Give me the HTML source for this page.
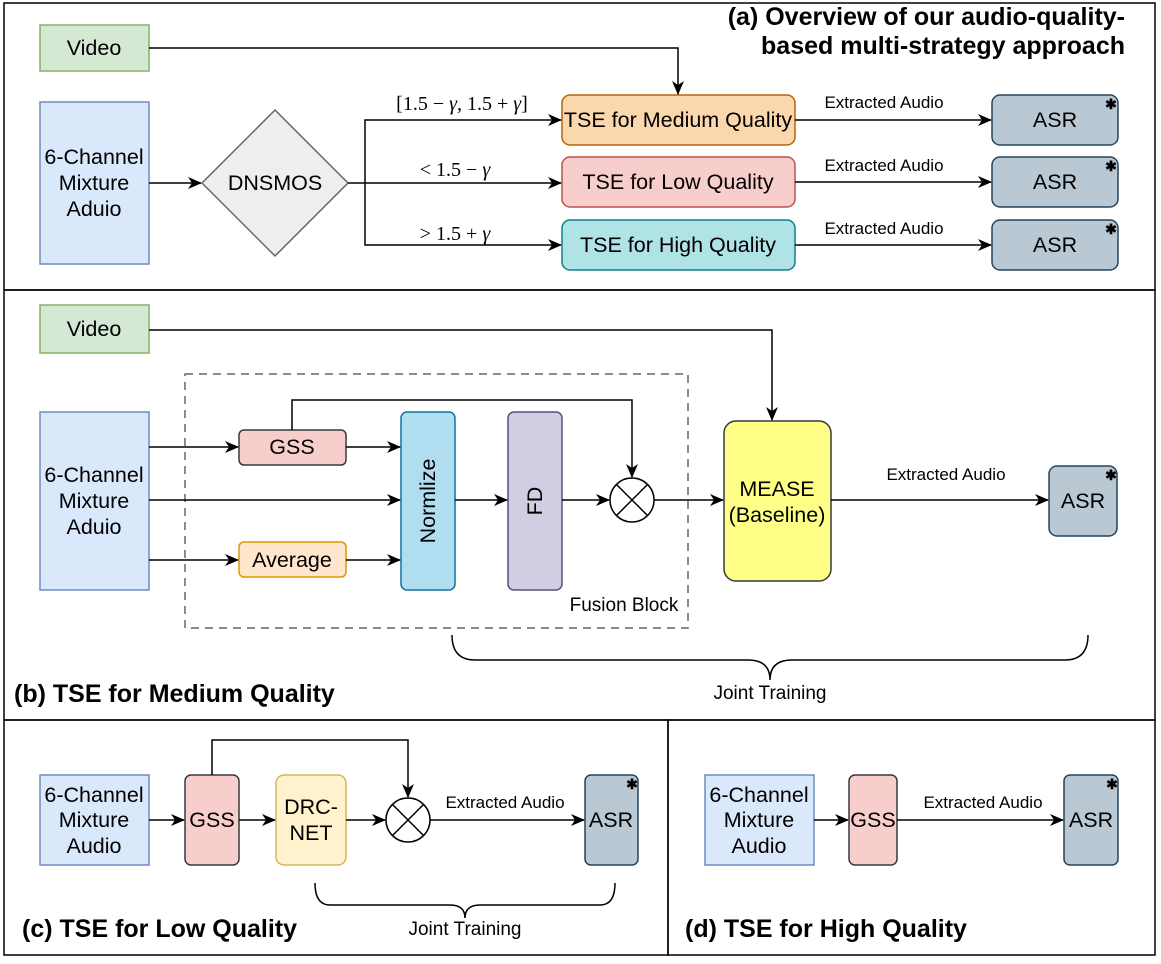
<!DOCTYPE html>
<html><head><style>body{margin:0;background:#fff}svg{display:block}text{font-family:"Liberation Sans",sans-serif}.m{font-family:"Liberation Serif",serif}</style></head><body>
<svg width="1161" height="964" viewBox="0 0 1161 964" xmlns="http://www.w3.org/2000/svg">
<defs><marker id="a" markerWidth="14" markerHeight="12" refX="13" refY="6" orient="auto" markerUnits="userSpaceOnUse"><path d="M0,0 L14,6 L0,12 L4,6 z" fill="#000"/></marker></defs>
<g fill="none" stroke="#000" stroke-width="1.5">
<rect x="4" y="3" width="1151" height="287"/>
<rect x="4" y="290" width="1151" height="430"/>
<rect x="4" y="720" width="664" height="235"/>
<rect x="668" y="720" width="487" height="235"/>
</g>
<g font-size="21.5" text-anchor="middle">
<rect x="40" y="25" width="109" height="46" fill="#d5e8d4" stroke="#82b366" stroke-width="1.5"/><text x="94" y="55">Video</text>
<rect x="40" y="102" width="109" height="162" fill="#dae8fc" stroke="#6c8ebf" stroke-width="1.5"/>
<text x="94" y="164">6-Channel</text><text x="94" y="190">Mixture</text><text x="94" y="216">Aduio</text>
<polygon points="275,110 348,183 275,256 202,183" fill="#eeeeee" stroke="#666" stroke-width="1.5"/><text x="275" y="190">DNSMOS</text>
<rect x="562" y="95" width="233" height="50" rx="8" fill="#fad7ac" stroke="#b46504" stroke-width="1.5"/><text x="678" y="127">TSE for Medium Quality</text>
<rect x="562" y="157" width="233" height="50" rx="8" fill="#f8cecc" stroke="#b85450" stroke-width="1.5"/><text x="678" y="189">TSE for Low Quality</text>
<rect x="562" y="220" width="233" height="50" rx="8" fill="#b0e3e6" stroke="#0e8088" stroke-width="1.5"/><text x="678" y="252">TSE for High Quality</text>
<g fill="#bac8d3" stroke="#23445d" stroke-width="1.5">
<rect x="992" y="95" width="126" height="50" rx="8"/><rect x="992" y="157" width="126" height="50" rx="8"/><rect x="992" y="220" width="126" height="50" rx="8"/>
<rect x="1049" y="466" width="68" height="70" rx="8"/><rect x="585" y="775" width="53" height="90" rx="6"/><rect x="1064" y="775" width="54" height="90" rx="6"/>
</g>
<text x="1055" y="127">ASR</text><text x="1055" y="189">ASR</text><text x="1055" y="252">ASR</text>
<rect x="40" y="305" width="109" height="48" fill="#d5e8d4" stroke="#82b366" stroke-width="1.5"/><text x="94" y="336">Video</text>
<rect x="40" y="412" width="109" height="178" fill="#dae8fc" stroke="#6c8ebf" stroke-width="1.5"/>
<text x="94" y="482">6-Channel</text><text x="94" y="508">Mixture</text><text x="94" y="534">Aduio</text>
<rect x="185" y="374" width="503" height="254" fill="none" stroke="#666" stroke-width="1.5" stroke-dasharray="8,6"/>
<rect x="239" y="430" width="107" height="35" rx="5" fill="#f8cecc" stroke="#36393d" stroke-width="1.5"/><text x="292" y="454">GSS</text>
<rect x="239" y="542" width="107" height="35" rx="5" fill="#ffe6cc" stroke="#d79b00" stroke-width="1.5"/><text x="292" y="567">Average</text>
<rect x="401" y="412" width="54" height="178" rx="6" fill="#b1ddf0" stroke="#10739e" stroke-width="1.5"/><text transform="translate(435,501) rotate(-90)">Normlize</text>
<rect x="508" y="412" width="54" height="178" rx="6" fill="#d0cee2" stroke="#56517e" stroke-width="1.5"/><text transform="translate(542,501) rotate(-90)">FD</text>
<rect x="724" y="421" width="107" height="160" rx="12" fill="#ffff88" stroke="#36393d" stroke-width="1.5"/><text x="777" y="496">MEASE</text><text x="777" y="522">(Baseline)</text>
<text x="1083" y="508">ASR</text>
<rect x="40" y="775" width="109" height="90" fill="#dae8fc" stroke="#6c8ebf" stroke-width="1.5"/>
<text x="94" y="802">6-Channel</text><text x="94" y="827">Mixture</text><text x="94" y="853">Audio</text>
<rect x="185" y="775" width="54" height="90" rx="6" fill="#f8cecc" stroke="#36393d" stroke-width="1.5"/><text x="212" y="827">GSS</text>
<rect x="276" y="775" width="70" height="90" rx="8" fill="#fff2cc" stroke="#d6b656" stroke-width="1.5"/><text x="311" y="814">DRC-</text><text x="311" y="840">NET</text>
<text x="611" y="827">ASR</text>
<rect x="705" y="775" width="109" height="90" fill="#dae8fc" stroke="#6c8ebf" stroke-width="1.5"/>
<text x="759" y="802">6-Channel</text><text x="759" y="827">Mixture</text><text x="759" y="853">Audio</text>
<rect x="849" y="775" width="48" height="90" rx="6" fill="#f8cecc" stroke="#36393d" stroke-width="1.5"/><text x="873" y="827">GSS</text>
<text x="1091" y="827">ASR</text>
</g>
<g font-size="14" text-anchor="middle" font-weight="bold"><text x="1111" y="109">✱</text><text x="1111" y="171">✱</text><text x="1111" y="234">✱</text><text x="1111" y="480">✱</text><text x="632" y="789">✱</text><text x="1112" y="789">✱</text></g>
<g fill="#fff" stroke="#000" stroke-width="1.5">
<circle cx="632" cy="500" r="22"/><path d="M616.5,484.5 L647.5,515.5 M647.5,484.5 L616.5,515.5"/>
<circle cx="408" cy="820" r="22"/><path d="M392.5,804.5 L423.5,835.5 M423.5,804.5 L392.5,835.5"/>
</g>
<g fill="none" stroke="#000" stroke-width="1.5" marker-end="url(#a)">
<path d="M149,48 H678 V94"/><path d="M149,183 H201"/>
<path d="M348,183 H365 V120 H561"/><path d="M365,183 H561"/><path d="M365,183 V245 H561"/>
<path d="M795,120 H991"/><path d="M795,182 H991"/><path d="M795,245 H991"/>
<path d="M149,330 H772 V420"/>
<path d="M149,447 H238"/><path d="M346,447 H400"/><path d="M149,500 H400"/><path d="M149,560 H238"/><path d="M346,560 H400"/>
<path d="M455,500 H507"/><path d="M562,500 H609"/><path d="M654,500 H723"/><path d="M831,500 H1048"/>
<path d="M292,430 V400 H632 V477"/>
<path d="M149,820 H184"/><path d="M239,820 H275"/><path d="M346,820 H385"/><path d="M430,820 H584"/><path d="M212,775 V740 H408 V797"/>
<path d="M814,820 H848"/><path d="M897,820 H1063"/>
</g>
<g fill="none" stroke="#000" stroke-width="1.5">
<path d="M452,635 Q452,660 475,660 H748 Q770,660 770,680 Q770,660 792,660 H1065 Q1088,660 1088,635"/>
<path d="M315,883 Q315,905 330,905 H450 Q465,905 465,918 Q465,905 480,905 H600 Q615,905 615,883"/>
</g>
<g font-size="17" text-anchor="middle">
<text x="884" y="108">Extracted Audio</text><text x="884" y="171">Extracted Audio</text><text x="884" y="234">Extracted Audio</text>
<text x="946" y="480">Extracted Audio</text><text x="505" y="808">Extracted Audio</text><text x="983" y="808">Extracted Audio</text>
<text x="624" y="611" font-size="19">Fusion Block</text>
<text x="770" y="699" font-size="19">Joint Training</text><text x="465" y="935" font-size="19">Joint Training</text>
</g>
<g font-size="20" text-anchor="middle">
<text class="m" x="462" y="110">[1.5 − <tspan font-style="italic">γ</tspan>, 1.5 + <tspan font-style="italic">γ</tspan>]</text>
<text class="m" x="455" y="176">&lt; 1.5 − <tspan font-style="italic">γ</tspan></text>
<text class="m" x="455" y="240">&gt; 1.5 + <tspan font-style="italic">γ</tspan></text>
</g>
<g font-size="25" font-weight="bold">
<text x="1125" y="25" text-anchor="end">(a) Overview of our audio-quality-</text>
<text x="1125" y="54" text-anchor="end">based multi-strategy approach</text>
<text x="14" y="702">(b) TSE for Medium Quality</text>
<text x="22" y="937">(c) TSE for Low Quality</text>
<text x="685" y="937">(d) TSE for High Quality</text>
</g>
</svg>
</body></html>
